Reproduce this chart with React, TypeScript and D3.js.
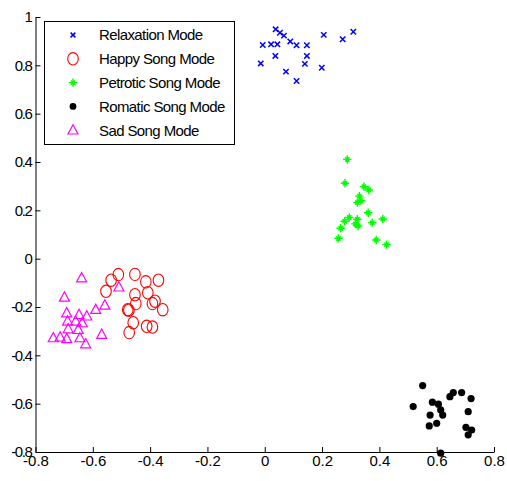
import React, { useRef, useEffect } from "react";
import * as d3 from "d3";

// cluster points: [x, y]
const relaxation: [number, number][] = [
  [0.038, 0.949], [0.053, 0.935], [0.067, 0.923], [-0.007, 0.884], [0.022, 0.887],
  [0.044, 0.887], [0.089, 0.899], [0.111, 0.883], [0.147, 0.883], [0.206, 0.926],
  [0.272, 0.908], [0.309, 0.939], [0.037, 0.839], [0.147, 0.839], [-0.014, 0.808],
  [0.14, 0.806], [0.199, 0.79], [0.074, 0.774], [0.111, 0.735],
];

const happy: [number, number][] = [
  [-0.536, -0.089], [-0.511, -0.066], [-0.453, -0.065], [-0.415, -0.096], [-0.371, -0.089],
  [-0.554, -0.135], [-0.453, -0.149], [-0.408, -0.141], [-0.383, -0.176], [-0.392, -0.186],
  [-0.45, -0.186], [-0.478, -0.211], [-0.474, -0.213], [-0.356, -0.211], [-0.459, -0.265],
  [-0.412, -0.28], [-0.392, -0.283], [-0.473, -0.306],
];

const patriotic: [number, number][] = [
  [0.288, 0.411], [0.28, 0.312], [0.346, 0.298], [0.363, 0.284], [0.33, 0.259],
  [0.335, 0.24], [0.323, 0.232], [0.361, 0.19], [0.295, 0.171], [0.279, 0.155],
  [0.323, 0.163], [0.316, 0.144], [0.375, 0.149], [0.412, 0.164], [0.265, 0.126],
  [0.326, 0.135], [0.257, 0.084], [0.389, 0.077], [0.425, 0.058],
];

const romantic: [number, number][] = [
  [0.551, -0.525], [0.518, -0.612], [0.585, -0.594], [0.606, -0.602], [0.614, -0.626],
  [0.621, -0.647], [0.577, -0.647], [0.6, -0.681], [0.574, -0.692], [0.646, -0.571],
  [0.658, -0.554], [0.687, -0.554], [0.72, -0.579], [0.71, -0.633], [0.702, -0.698],
  [0.722, -0.709], [0.71, -0.729], [0.614, -0.805],
];

const sad: [number, number][] = [
  [-0.639, -0.08], [-0.699, -0.16], [-0.509, -0.118], [-0.558, -0.193], [-0.59, -0.211],
  [-0.691, -0.225], [-0.648, -0.232], [-0.621, -0.238], [-0.688, -0.259], [-0.66, -0.259],
  [-0.637, -0.266], [-0.686, -0.291], [-0.651, -0.294], [-0.738, -0.328], [-0.714, -0.325],
  [-0.691, -0.332], [-0.645, -0.328], [-0.569, -0.314], [-0.625, -0.353],
];

const legendLabels = [
  "Relaxation Mode",
  "Happy Song Mode",
  "Petrotic Song Mode",
  "Romatic Song Mode",
  "Sad Song Mode",
];

const xTicks = [-0.8, -0.6, -0.4, -0.2, 0, 0.2, 0.4, 0.6, 0.8];
const yTicks = [-0.8, -0.6, -0.4, -0.2, 0, 0.2, 0.4, 0.6, 0.8, 1];

const W = 507;
const H = 481;
const FONT = "'Liberation Sans', Arial, sans-serif";

// draws one marker of a given kind at (cx, cy)
function drawMarker(g, kind: string, cx: number, cy: number, legend = false) {
  if (kind === "x") {
    const s = legend ? 2.4 : 2.7;
    g.append("path")
      .attr("d", `M${cx - s},${cy - s}L${cx + s},${cy + s}M${cx - s},${cy + s}L${cx + s},${cy - s}`)
      .attr("stroke", "#0000ff")
      .attr("stroke-width", 1.5)
      .attr("fill", "none");
  } else if (kind === "o") {
    g.append("ellipse")
      .attr("cx", cx)
      .attr("cy", cy)
      .attr("rx", 5.3)
      .attr("ry", 6.2)
      .attr("stroke", "#ff0000")
      .attr("stroke-width", 1.1)
      .attr("fill", "none");
  } else if (kind === "*") {
    const s = 4.2;
    const d = 2.2;
    g.append("path")
      .attr(
        "d",
        `M${cx - s},${cy}L${cx + s},${cy}M${cx},${cy - s}L${cx},${cy + s}` +
          `M${cx - d},${cy - d}L${cx + d},${cy + d}M${cx - d},${cy + d}L${cx + d},${cy - d}`
      )
      .attr("stroke", "#00ff00")
      .attr("stroke-width", 1.4)
      .attr("fill", "none");
  } else if (kind === ".") {
    g.append("circle")
      .attr("cx", cx)
      .attr("cy", cy)
      .attr("r", legend ? 3.4 : 3.6)
      .attr("fill", "#000");
  } else if (kind === "^") {
    const w = 5;
    g.append("path")
      .attr("d", `M${cx},${cy - 5.5}L${cx + w},${cy + 3.8}L${cx - w},${cy + 3.8}Z`)
      .attr("stroke", "#ff00ff")
      .attr("stroke-width", 1.2)
      .attr("fill", "none");
  }
}

const App = () => {
  const svgRef = useRef(null);

  useEffect(() => {
    const svg = d3.select(svgRef.current);
    svg.selectAll("*").remove();

    const x = d3.scaleLinear().domain([-0.8, 0.8]).range([35.5, 494]);
    const y = d3.scaleLinear().domain([-0.8, 1]).range([452, 17]);
    const fmt = (v) => String(v);

    // axes (MATLAB style, ticks pointing in)
    const xAxis = svg
      .append("g")
      .attr("transform", `translate(0,${y(-0.8)})`)
      .call(d3.axisBottom(x).tickValues(xTicks).tickFormat(fmt).tickSize(-5).tickSizeOuter(0).tickPadding(3));
    const yAxis = svg
      .append("g")
      .attr("transform", `translate(${x(-0.8)},0)`)
      .call(d3.axisLeft(y).tickValues(yTicks).tickFormat(fmt).tickSize(-5).tickSizeOuter(0).tickPadding(4));

    [xAxis, yAxis].forEach((a) => {
      a.selectAll("path, line").attr("stroke", "#000");
      a.selectAll("text")
        .attr("fill", "#000")
        .style("font-family", FONT);
    });
    xAxis.selectAll("text").style("font-size", "15px");
    yAxis.selectAll("text").style("font-size", "15px").style("letter-spacing", "-1.4px");

    const series = [
      { data: relaxation, kind: "x" },
      { data: happy, kind: "o" },
      { data: patriotic, kind: "*" },
      { data: romantic, kind: "." },
      { data: sad, kind: "^" },
    ];

    const plot = svg.append("g");
    series.forEach((s) => {
      s.data.forEach(([vx, vy]) => drawMarker(plot, s.kind, x(vx), y(vy)));
    });

    // legend
    const legend = svg.append("g");
    legend
      .append("rect")
      .attr("x", 44.5)
      .attr("y", 21.5)
      .attr("width", 190)
      .attr("height", 123)
      .attr("fill", "#fff")
      .attr("stroke", "#000")
      .attr("stroke-width", 1);

    legendLabels.forEach((label, i) => {
      const cy = 35 + i * 23.8;
      drawMarker(legend, series[i].kind, 73, cy, true);
      legend
        .append("text")
        .attr("x", 99)
        .attr("y", cy)
        .attr("dy", "0.36em")
        .style("font-family", FONT)
        .style("font-size", "15px")
        .style("letter-spacing", "-0.6px")
        .text(label);
    });
  }, []);

  return (
    <svg
      ref={svgRef}
      width={W}
      height={H}
      style={{ position: "absolute", left: 0, top: 0, background: "#fff" }}
    ></svg>
  );
};

export default App;
